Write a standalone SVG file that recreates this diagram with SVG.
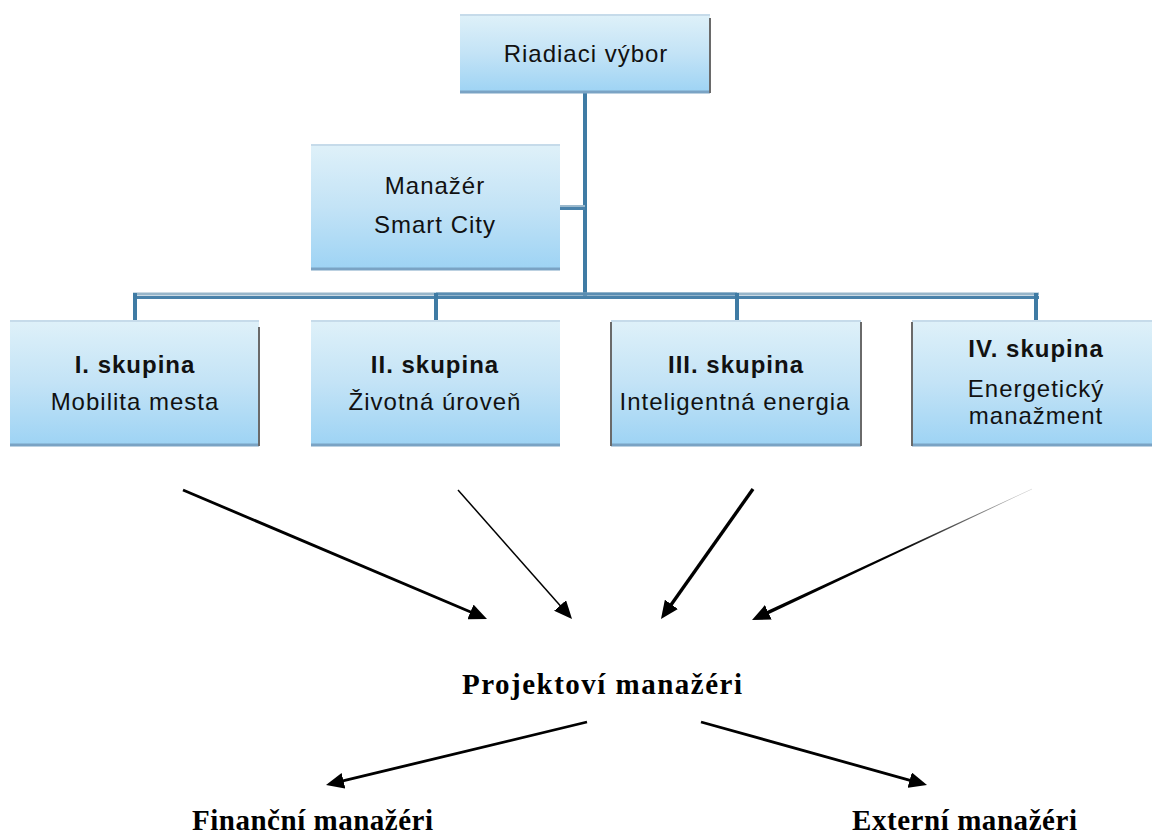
<svg xmlns="http://www.w3.org/2000/svg" width="1152" height="836" viewBox="0 0 1152 836">
<defs>
<linearGradient id="boxg" x1="0" y1="0" x2="0" y2="1">
<stop offset="0" stop-color="#dff1f9"/>
<stop offset="0.5" stop-color="#c3e3f6"/>
<stop offset="1" stop-color="#9dd3f4"/>
</linearGradient>
<linearGradient id="fade" gradientUnits="userSpaceOnUse" x1="1032" y1="489" x2="900" y2="551">
<stop offset="0" stop-color="#d0d0d0"/>
<stop offset="1" stop-color="#000"/>
</linearGradient>
<marker id="ah" markerUnits="userSpaceOnUse" viewBox="0 0 18 16" refX="6" refY="8" markerWidth="18" markerHeight="16" orient="auto">
<path d="M0,0 L18,8 L0,16 z" fill="#000"/>
</marker>
<style>
.box{fill:url(#boxg)}
.top{stroke:#c6dbea;stroke-width:2}
.bot{stroke:#7aa3c4;stroke-width:3}
.edge{stroke:#6a6a6a;stroke-width:2}
.t{font-family:"Liberation Sans",Arial,sans-serif;font-size:24px;fill:#111;text-anchor:middle;letter-spacing:1px}
.b{font-weight:bold}
.s{font-family:"Liberation Serif","Times New Roman",serif;font-size:29px;font-weight:bold;fill:#000}
.org{stroke:#3f7ba4;stroke-width:4;fill:none}
.arr{stroke:#000;fill:none;marker-end:url(#ah)}
</style>
</defs>
<g id="connectors">
<line class="org" x1="585" y1="93" x2="585" y2="297"/>
<line x1="133" y1="294" x2="1039" y2="294" stroke="#98b6ca" stroke-width="3"/>
<line x1="133" y1="297.5" x2="1039" y2="297.5" stroke="#4a82aa" stroke-width="3"/>
<line x1="436" y1="294" x2="737" y2="294" stroke="#5a8db2" stroke-width="3"/>
<line class="org" x1="135" y1="293" x2="135" y2="321"/>
<line class="org" x1="436" y1="293" x2="436" y2="321"/>
<line class="org" x1="737" y1="293" x2="737" y2="321"/>
<line class="org" x1="1036" y1="293" x2="1036" y2="321"/>
<line x1="560" y1="206" x2="585" y2="206" stroke="#9bb9cd" stroke-width="2"/>
<line x1="560" y1="208.5" x2="585" y2="208.5" stroke="#4a82aa" stroke-width="3"/>
<path class="arr" stroke-width="2.8" d="M183,490 L475.95,614.31"/>
<path class="arr" stroke-width="1.5" d="M458,490 L564.06,610.01"/>
<path class="arr" stroke-width="3.4" d="M753,489 L667.93,609.21"/>
<polygon points="1031.92,488.82 762.11,613.28 763.63,616.54 1032.08,489.18" fill="url(#fade)"/>
<path d="M1032,489 L762.87,614.91" stroke="none" fill="none" marker-end="url(#ah)"/>
<path class="arr" stroke-width="2.8" d="M587,722 L337.66,782.18"/>
<path class="arr" stroke-width="2.8" d="M701,722 L915.44,781.78"/>
</g>
<g id="riadiaci">
<rect class="box" x="460" y="14" width="250" height="79"/>
<line class="top" x1="460" y1="15" x2="710" y2="15"/>
<line class="bot" x1="460" y1="92" x2="710" y2="92"/>
<line class="edge" x1="710" y1="18" x2="710" y2="93"/>
<text class="t" x="586" y="62">Riadiaci výbor</text>
</g>
<g id="manazer">
<rect class="box" x="311" y="144" width="249" height="126"/>
<line class="top" x1="311" y1="145" x2="560" y2="145"/>
<line class="bot" x1="311" y1="269" x2="560" y2="269"/>
<text class="t" x="435" y="194">Manažér</text>
<text class="t" x="435" y="233">Smart City</text>
</g>
<g id="skupina1">
<rect class="box" x="10" y="320" width="249" height="126"/>
<line class="top" x1="10" y1="321" x2="259" y2="321"/>
<line class="bot" x1="10" y1="445" x2="259" y2="445"/>
<line class="edge" x1="259" y1="327" x2="259" y2="446"/>
<text class="t b" x="135" y="373">I. skupina</text>
<text class="t" x="135" y="410">Mobilita mesta</text>
</g>
<g id="skupina2">
<rect class="box" x="311" y="320" width="249" height="126"/>
<line class="top" x1="311" y1="321" x2="560" y2="321"/>
<line class="bot" x1="311" y1="445" x2="560" y2="445"/>
<text class="t b" x="435" y="373">II. skupina</text>
<text class="t" x="435" y="410">Životná úroveň</text>
</g>
<g id="skupina3">
<rect class="box" x="611" y="320" width="250" height="126"/>
<line class="top" x1="611" y1="321" x2="861" y2="321"/>
<line class="bot" x1="611" y1="445" x2="861" y2="445"/>
<line class="edge" x1="611" y1="322" x2="611" y2="446"/>
<line class="edge" x1="861" y1="322" x2="861" y2="446"/>
<text class="t b" x="736" y="373">III. skupina</text>
<text class="t" x="735" y="410">Inteligentná energia</text>
</g>
<g id="skupina4">
<rect class="box" x="912" y="320" width="250" height="126"/>
<line class="top" x1="912" y1="321" x2="1162" y2="321"/>
<line class="bot" x1="912" y1="445" x2="1162" y2="445"/>
<line class="edge" x1="912" y1="322" x2="912" y2="446"/>
<text class="t b" x="1036" y="357">IV. skupina</text>
<text class="t" x="1036" y="397">Energetický</text>
<text class="t" x="1036" y="424">manažment</text>
</g>
<g id="projektovi">
<text class="s" x="462" y="694" textLength="280" lengthAdjust="spacing">Projektoví manažéri</text>
</g>
<g id="financni">
<text class="s" x="192" y="830" textLength="241" lengthAdjust="spacing">Finanční manažéri</text>
</g>
<g id="externi">
<text class="s" x="852" y="830" textLength="225" lengthAdjust="spacing">Externí manažéri</text>
</g>
</svg>
